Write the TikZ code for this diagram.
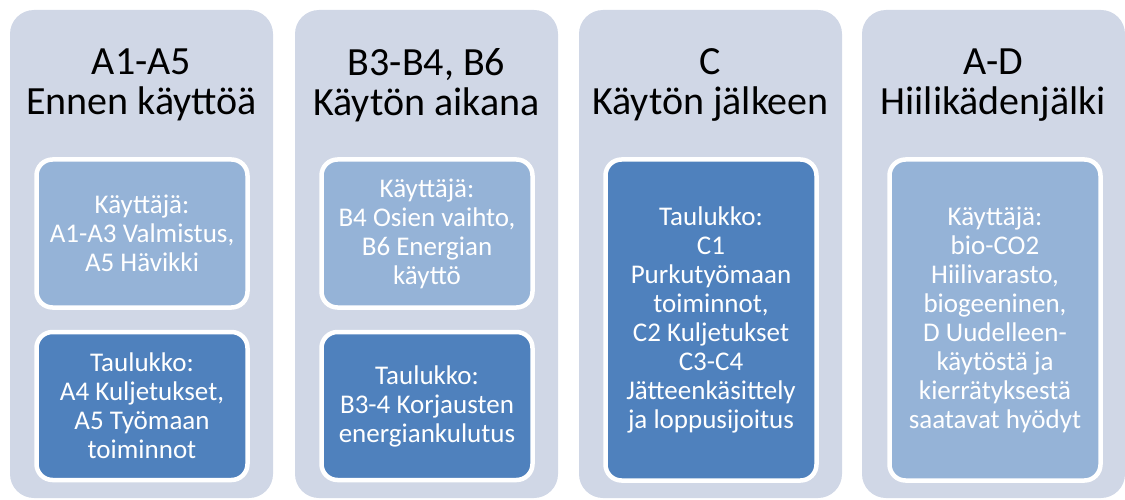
\documentclass[tikz,border=0pt]{standalone}
\usepackage{fontspec}
\setmainfont{Carlito}
\usepackage{tikz}

\definecolor{colbg}{HTML}{D0D7E6}
\definecolor{userbox}{HTML}{95B3D7}
\definecolor{tablebox}{HTML}{4F81BD}

\begin{document}
\begin{tikzpicture}[x=1pt,y=-1pt]
\tikzstyle{column}=[fill=colbg,rounded corners=24pt,minimum width=263pt,minimum height=488pt,inner sep=0pt];
\tikzstyle{heading}=[align=center,font=\fontsize{40}{40}\selectfont,text=black];
\tikzstyle{phase}=[draw=white,line width=4.5pt,rounded corners=16pt,minimum width=211pt,align=center,text=white,inner sep=0pt,font=\fontsize{27}{29}\selectfont];
\tikzstyle{user}=[phase,fill=userbox,minimum height=148pt];
\tikzstyle{table}=[phase,fill=tablebox,minimum height=148pt];
\useasboundingbox (0,0) rectangle (1125,500);

% columns
\node[column] (colA) at (141.5,254) {};
\node[column] (colB) at (426.5,254) {};
\node[column] (colC) at (710.5,254) {};
\node[column] (colD) at (993.5,254) {};

% headings
\node[heading] (headA) at (141.5,85) {A1-A5\\Ennen käyttöä};
\node[heading] (headB) at (426.5,85) {B3-B4, B6\\Käytön aikana};
\node[heading] (headC) at (710.5,85) {C\\Käytön jälkeen};
\node[heading] (headD) at (993.5,85) {A-D\\Hiilikädenjälki};

% A
\node[user] (userA) at (142,233.5) {Käyttäjä:\\A1-A3 Valmistus,\\A5 Hävikki};
\node[table] (tableA) at (142,406) {Taulukko:\\A4 Kuljetukset,\\A5 Työmaan\\toiminnot};

% B
\node[user] (userB) at (427,233.5) {Käyttäjä:\\B4 Osien vaihto,\\B6 Energian\\käyttö};
\node[table] (tableB) at (427,406) {Taulukko:\\B3-4 Korjausten\\energiankulutus};

% C
\node[table,minimum height=321pt] (tableC) at (711,320) {Taulukko:\\C1\\Purkutyömaan\\toiminnot,\\C2 Kuljetukset\\C3-C4\\Jätteenkäsittely\\ja loppusijoitus};

% D
\node[user,minimum height=321pt] (userD) at (995,320) {Käyttäjä:\\bio-CO2\\Hiilivarasto,\\biogeeninen,\\D Uudelleen-\\käytöstä ja\\kierrätyksestä\\saatavat hyödyt};
\end{tikzpicture}
\end{document}
